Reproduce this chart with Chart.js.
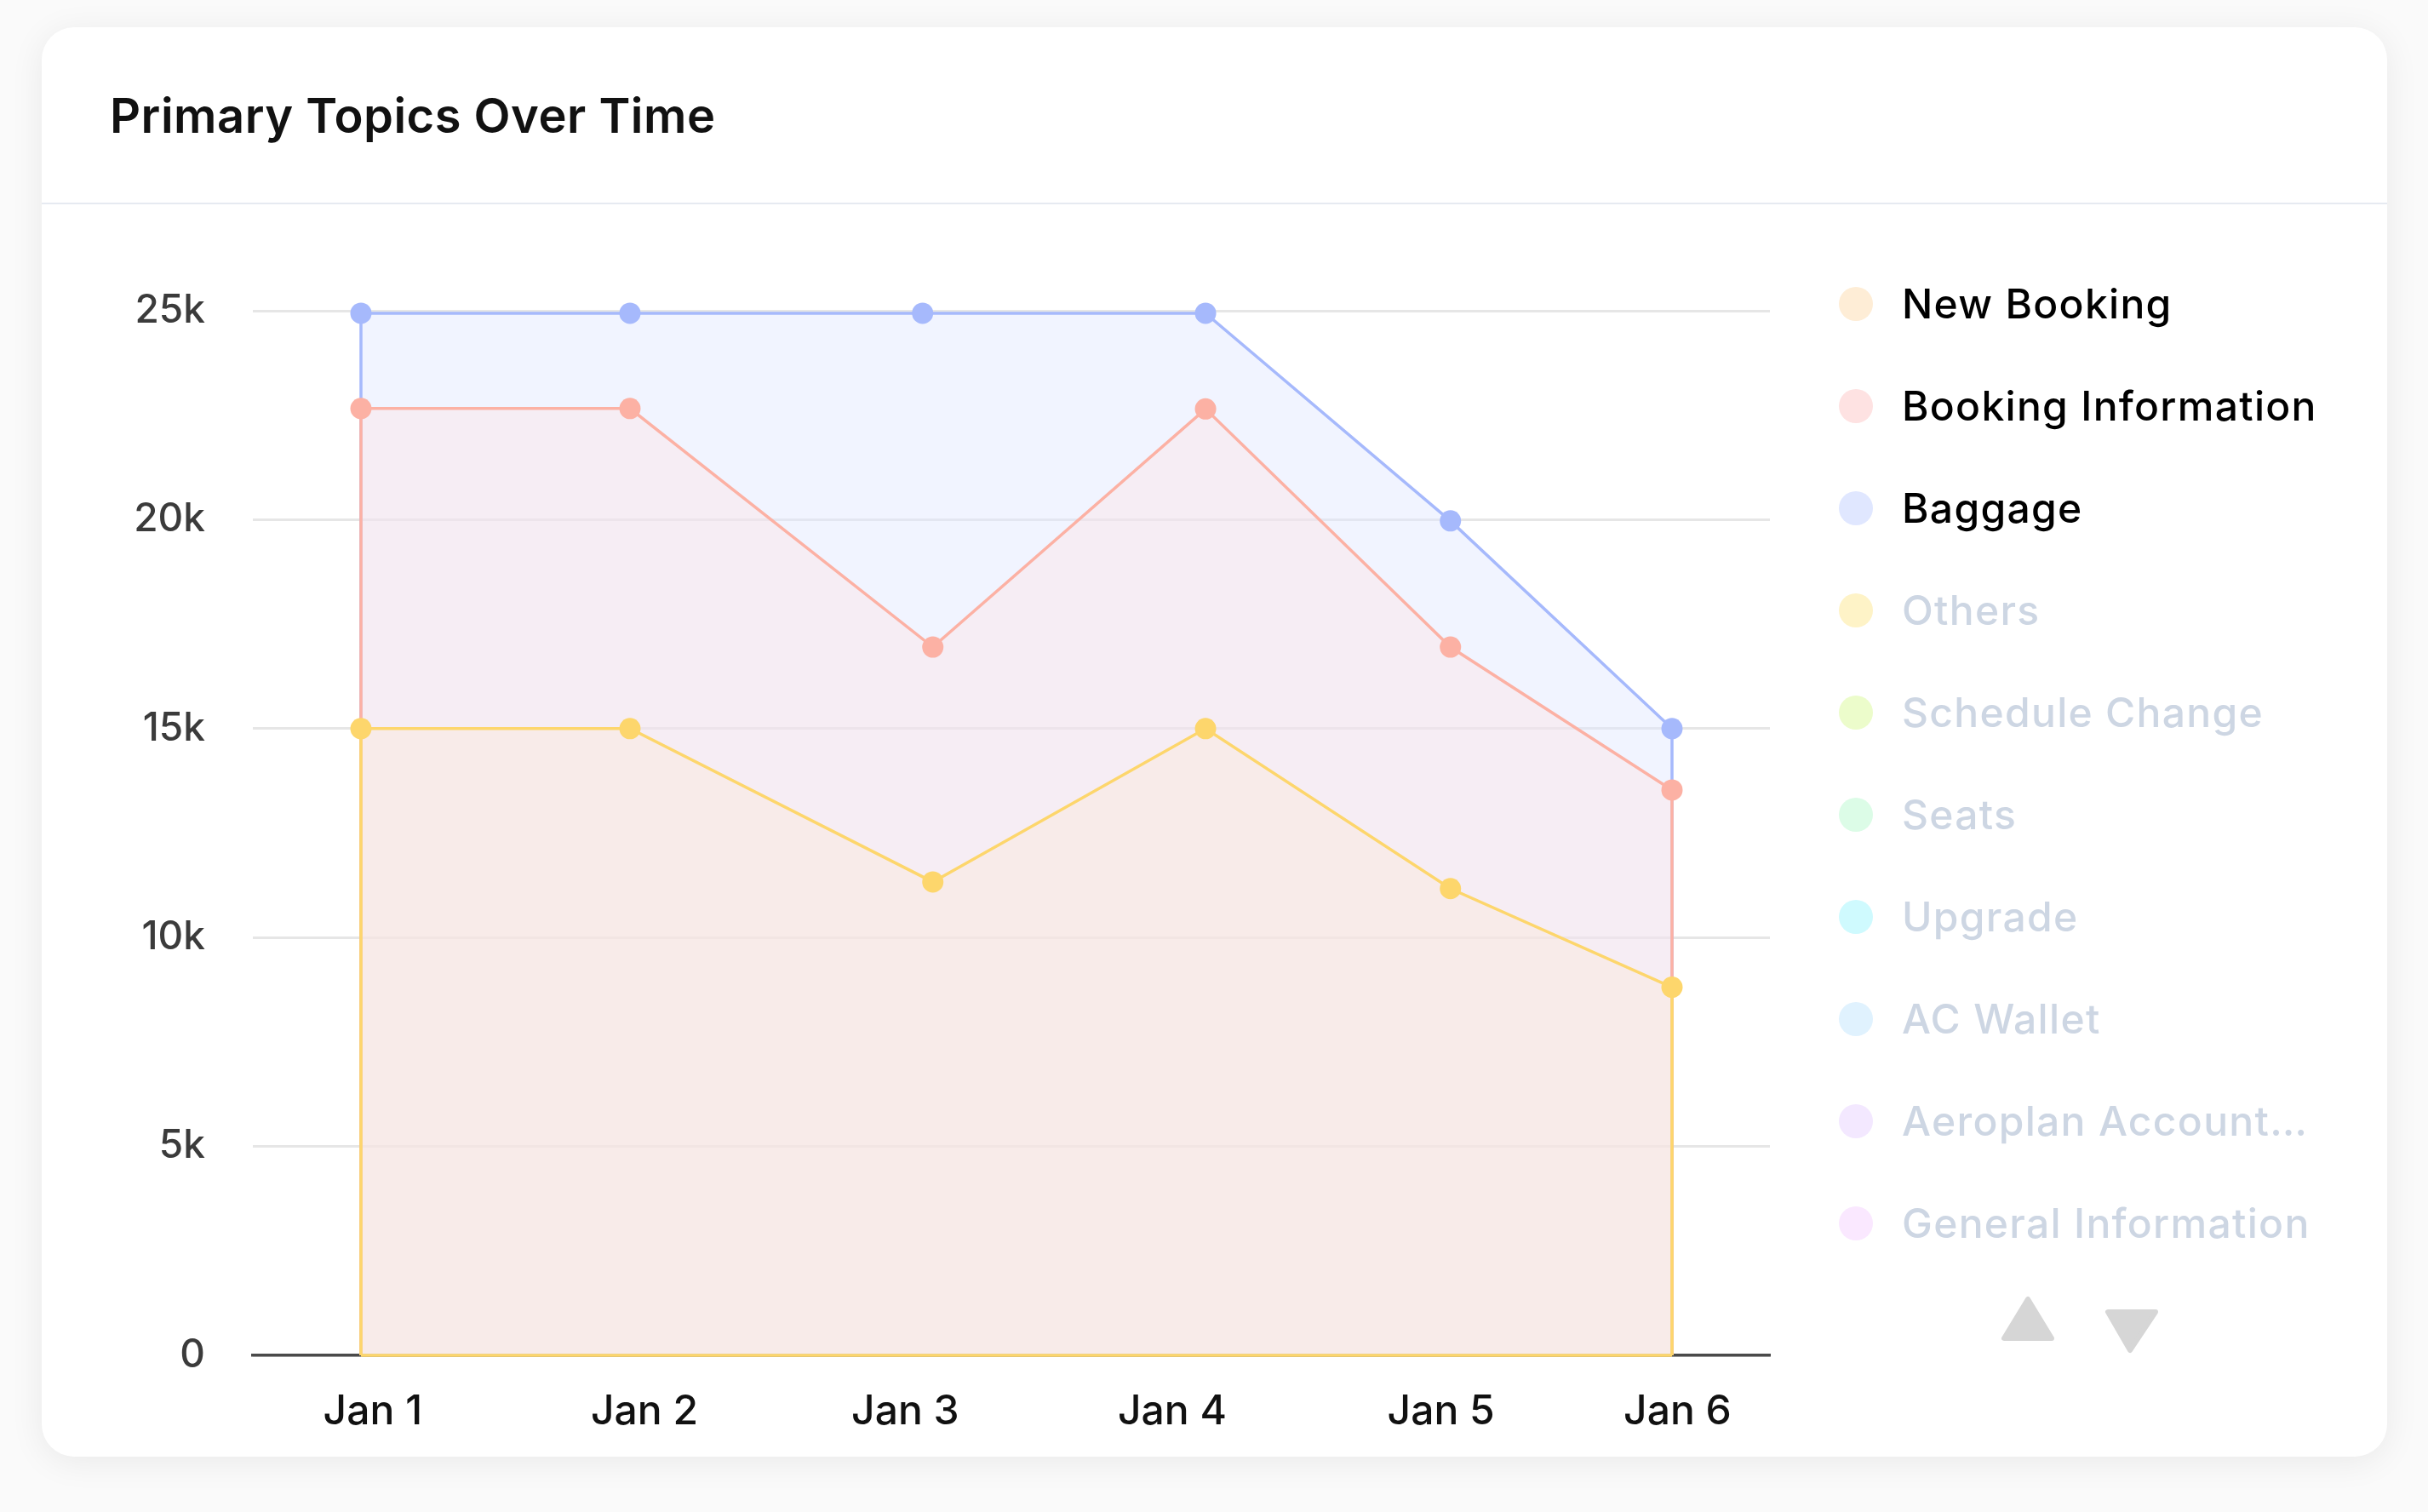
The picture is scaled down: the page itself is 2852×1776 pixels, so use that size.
<!DOCTYPE html>
<html>
<head>
<meta charset="utf-8">
<script src="https://cdn.jsdelivr.net/npm/chart.js@4.4.1/dist/chart.umd.min.js"></script>
<style>
html,body{margin:0;padding:0;width:2852px;height:1776px;overflow:hidden;background:#fafafa;font-family:Inter,"Noto Sans",sans-serif;}
#card{position:absolute;left:49px;top:32px;width:2755px;height:1679px;background:#fff;border-radius:38px;box-shadow:0 6px 40px rgba(0,0,0,0.07);}
#title{position:absolute;left:129px;top:108px;font-size:56px;line-height:56px;font-weight:600;color:#111;white-space:nowrap;letter-spacing:0.5px;}
#divider{position:absolute;left:49px;width:2755px;top:238px;height:2px;background:#e6eaf1;}
#chart{position:absolute;left:0;top:0;}
.li{position:absolute;left:2160px;height:60px;display:flex;align-items:center;white-space:nowrap;}
.dot{width:40px;height:40px;border-radius:50%;margin-right:34px;flex:none;}
.lt{font-size:48px;line-height:48px;font-weight:500;letter-spacing:1.3px;}
#arrows{position:absolute;left:2340px;top:1510px;}
</style>
</head>
<body>
<div id="card"></div>
<div id="title">Primary Topics Over Time</div>
<div id="divider"></div>
<canvas id="chart" width="2852" height="1776"></canvas>
<div id="legend"></div>
<svg id="arrows" width="210" height="100" viewBox="0 0 210 100">
  <polygon points="42,16 14,62 70,62" fill="#d6d6d6" stroke="#d6d6d6" stroke-width="6" stroke-linejoin="round"/>
  <polygon points="136,31 192,31 162,76" fill="#d6d6d6" stroke="#d6d6d6" stroke-width="6" stroke-linejoin="round"/>
</svg>
<script>
// ---- data ----
const categories = ['Jan 1', 'Jan 2', 'Jan 3', 'Jan 4', 'Jan 5', 'Jan 6'];
const tickDays = [0.045, 1.081, 2.076, 3.094, 4.119, 5.021];
const pointDays = [0, 1.026, 2.181, 3.221, 4.155, 5.0];
const baggagePointDays = [0, 1.026, 2.142, 3.221, 4.155, 5.0];
const newBooking = [15000, 15000, 11330, 15000, 11170, 8810];
const bookingInformation = [22660, 22660, 16950, 22650, 16950, 13530];
const baggage = [24940, 24940, 24940, 24940, 19970, 15000];
const yTickStep = 5000;
const yMax = 25000;
const legendNames = ['New Booking', 'Booking Information', 'Baggage', 'Others', 'Schedule Change', 'Seats', 'Upgrade', 'AC Wallet', 'Aeroplan Account…', 'General Information'];
const legendColors = ['#feedd6', '#fee2e2', '#e0e7ff', '#fef3c7', '#ecfccb', '#dcfce7', '#cffafe', '#e0f2fe', '#f3e8ff', '#fae8ff'];
const activeCount = 3;
const lineColors = ['#fdd66c', '#fcb1a4', '#a6b9fc'];
const fillColors = ['rgba(252,231,212,0.35)', 'rgba(254,226,226,0.38)', 'rgba(224,231,255,0.45)'];

// ---- legend (HTML) ----
const legend = document.getElementById('legend');
legendNames.forEach((name, i) => {
  const d = document.createElement('div');
  d.className = 'li';
  d.style.top = (327 + i * 120) + 'px';
  d.innerHTML = '<div class="dot" style="background:' + legendColors[i] + '"></div><div class="lt" style="color:' + (i < activeCount ? '#000' : '#cdd6e3') + '">' + name + '</div>';
  legend.appendChild(d);
});

// ---- chart ----
function areaPoints(xs, ys) {
  const pts = xs.map((x, i) => ({x: x, y: ys[i]}));
  return [{x: xs[0], y: 0, edge: true}].concat(pts, [{x: xs[xs.length - 1], y: 0, edge: true}]);
}
function ds(label, xs, ys, i) {
  return {
    label: label,
    data: areaPoints(xs, ys),
    borderColor: lineColors[i],
    backgroundColor: fillColors[i],
    pointBackgroundColor: lineColors[i],
    pointBorderWidth: 0,
    pointRadius: c => (c.raw && c.raw.edge) ? 0 : 12.5,
    borderWidth: 3.5,
    fill: 'origin',
    tension: 0,
    clip: false
  };
}
const baselinePlugin = {
  id: 'baseline',
  afterDatasetsDraw(chart) {
    const pts = chart.getDatasetMeta(0).data;
    const y = chart.scales.y.getPixelForValue(0);
    const c = chart.ctx;
    c.save();
    c.strokeStyle = lineColors[0];
    c.lineWidth = 3.5;
    c.beginPath();
    c.moveTo(pts[0].x, y);
    c.lineTo(pts[pts.length - 1].x, y);
    c.stroke();
    c.restore();
  }
};
new Chart(document.getElementById('chart'), {
  type: 'line',
  data: {
    datasets: [
      ds(legendNames[0], pointDays, newBooking, 0),
      ds(legendNames[1], pointDays, bookingInformation, 1),
      ds(legendNames[2], baggagePointDays, baggage, 2)
    ]
  },
  options: {
    responsive: false,
    devicePixelRatio: 1,
    animation: false,
    events: [],
    layout: {padding: {left: 0, right: 773, top: 365, bottom: 64}},
    plugins: {legend: {display: false}, tooltip: {enabled: false}},
    scales: {
      x: {
        type: 'linear',
        min: -0.4123,
        max: 5.3734,
        afterBuildTicks: s => { s.ticks = tickDays.map(v => ({value: v})); },
        afterFit: s => { s.height = 120; },
        ticks: {
          autoSkip: false,
          maxRotation: 0,
          padding: 30,
          color: '#111',
          font: {family: 'Inter', size: 48, weight: '500'},
          callback: (v, i) => categories[i]
        },
        grid: {display: false},
        border: {display: true, color: '#4a4a4a', width: 3.5}
      },
      y: {
        min: 0,
        max: yMax,
        afterFit: s => { s.width = 297; },
        ticks: {
          stepSize: yTickStep,
          padding: 56,
          color: '#3b3b3b',
          font: {family: 'Inter', size: 46, weight: '500'},
          callback: v => v === 0 ? '0' : (v / 1000) + 'k'
        },
        grid: {color: '#e6e6e6', lineWidth: 3, drawTicks: false},
        border: {display: false}
      }
    }
  },
  plugins: [baselinePlugin]
});
</script>
</body>
</html>
